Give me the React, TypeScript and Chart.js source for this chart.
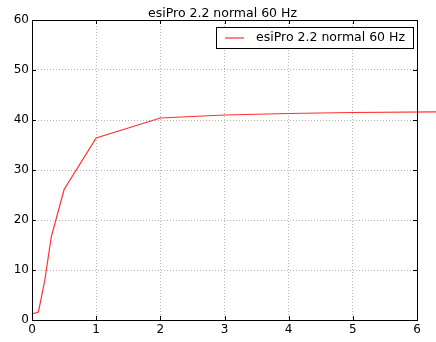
import React, { useEffect, useRef } from "react";
import { Chart, registerables } from "chart.js";

Chart.register(...registerables);

const TITLE = "esiPro 2.2 normal 60 Hz";
const SERIES_LABEL = "esiPro 2.2 normal 60 Hz";
const xValues = [0, 0.1, 0.2, 0.3, 0.5, 1, 2, 3, 4, 5, 7];
const yValues = [1.2, 1.6, 8.0, 16.6, 26.1, 36.4, 40.4, 41.0, 41.3, 41.5, 41.7];
const X_MIN = 0;
const X_MAX = 6;
const Y_MIN = 0;
const Y_MAX = 60;

const FONT = "'DejaVu Sans', sans-serif";

const framePlugin = {
  id: "mplFrame",
  afterDraw(chart: any) {
    const { ctx, chartArea } = chart;
    const { left, right, top, bottom } = chartArea;
    const xs = chart.scales.x;
    const ys = chart.scales.y;
    ctx.save();
    ctx.strokeStyle = "#000";
    ctx.lineWidth = 1;
    ctx.beginPath();
    xs.ticks.forEach((t: any) => {
      const px = Math.round(xs.getPixelForValue(t.value)) + 0.5;
      ctx.moveTo(px, bottom);
      ctx.lineTo(px, bottom - 4);
      ctx.moveTo(px, top);
      ctx.lineTo(px, top + 4);
    });
    ys.ticks.forEach((t: any) => {
      const py = Math.round(ys.getPixelForValue(t.value)) + 0.5;
      ctx.moveTo(left, py);
      ctx.lineTo(left + 4, py);
      ctx.moveTo(right, py);
      ctx.lineTo(right - 4, py);
    });
    ctx.stroke();
    ctx.strokeRect(Math.round(left) + 0.5, Math.round(top) + 0.5, Math.round(right - left), Math.round(bottom - top));
    // title
    ctx.fillStyle = "#000";
    ctx.font = `12.5px ${FONT}`;
    ctx.textAlign = "center";
    ctx.textBaseline = "alphabetic";
    ctx.fillText(TITLE, (left + right) / 2 - 2, top - 3);
    // legend
    const ds = chart.data.datasets[0];
    ctx.font = `12.5px ${FONT}`;
    const tw = ctx.measureText(ds.label).width;
    const boxRight = right - 4;
    const boxW = tw + 48;
    const boxLeft = boxRight - boxW;
    const boxTop = top + 7;
    const boxH = 21;
    ctx.fillStyle = "#fff";
    ctx.fillRect(boxLeft, boxTop, boxW, boxH);
    ctx.strokeStyle = "#000";
    ctx.lineWidth = 1;
    ctx.strokeRect(Math.round(boxLeft) + 0.5, boxTop + 0.5, Math.round(boxW), boxH);
    ctx.strokeStyle = ds.borderColor;
    ctx.lineWidth = 1.2;
    ctx.beginPath();
    ctx.moveTo(boxLeft + 9, boxTop + 11);
    ctx.lineTo(boxLeft + 28, boxTop + 11);
    ctx.stroke();
    ctx.fillStyle = "#000";
    ctx.textAlign = "left";
    ctx.textBaseline = "middle";
    ctx.fillText(ds.label, boxLeft + 40, boxTop + 11);
    ctx.restore();
  },
};

export default function App() {
  const ref = useRef<HTMLCanvasElement | null>(null);
  useEffect(() => {
    if (!ref.current) return;
    const chart = new Chart(ref.current, {
      type: "line",
      data: {
        datasets: [
          {
            label: SERIES_LABEL,
            data: xValues.map((x, i) => ({ x, y: yValues[i] })),
            borderColor: "#ff3030",
            borderWidth: 1.2,
            pointRadius: 0,
            fill: false,
            tension: 0,
            clip: false as any,
          },
        ],
      },
      options: {
        animation: false,
        responsive: false,
        maintainAspectRatio: false,
        layout: { padding: { top: 20, right: 19, left: 0, bottom: 0 } },
        plugins: { legend: { display: false }, title: { display: false }, tooltip: { enabled: false } },
        scales: {
          x: {
            type: "linear",
            min: X_MIN,
            max: X_MAX,
            ticks: { stepSize: 1, color: "#000", font: { family: FONT, size: 12 }, padding: 3, maxRotation: 0 },
            grid: { color: "rgba(0,0,0,0.3)", drawTicks: false, tickLength: 0 },
            border: { display: false, dash: [1, 2] } as any,
            afterFit(scale: any) {
              scale.height = 22;
            },
          },
          y: {
            type: "linear",
            min: Y_MIN,
            max: Y_MAX,
            ticks: { stepSize: 10, color: "#000", font: { family: FONT, size: 12 }, padding: 3 },
            grid: { color: "rgba(0,0,0,0.3)", drawTicks: false, tickLength: 0 },
            border: { display: false, dash: [1, 2] } as any,
            afterFit(scale: any) {
              scale.width = 32;
            },
          },
        },
      },
      plugins: [framePlugin],
    });
    return () => chart.destroy();
  }, []);
  return (
    <div style={{ position: "fixed", left: 0, top: 0, width: 436, height: 342, background: "#fff" }}>
      <canvas ref={ref} width={436} height={342} style={{ width: 436, height: 342 }} />
    </div>
  );
}
